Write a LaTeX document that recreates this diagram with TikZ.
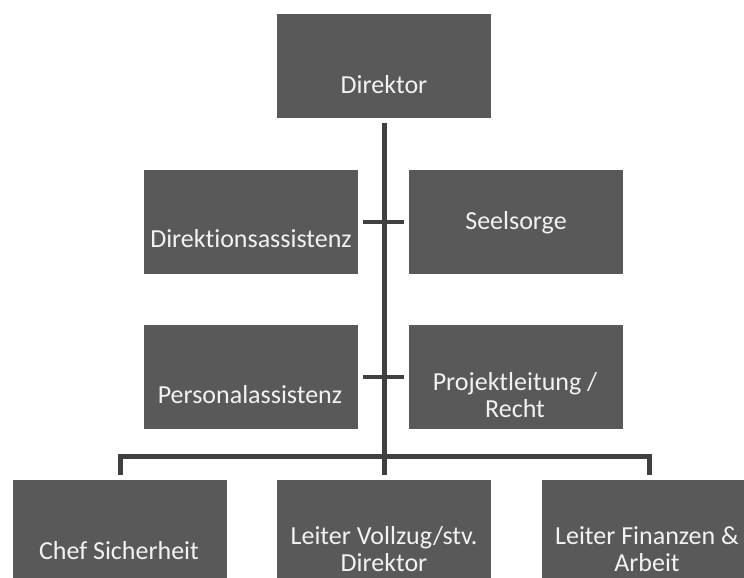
\documentclass[tikz,border=0pt]{standalone}
\usepackage{fontspec}
\setmainfont{Carlito}[Ligatures={NoCommon}]
\definecolor{boxfill}{HTML}{595959}
\definecolor{linecol}{HTML}{404040}
\definecolor{txtcol}{HTML}{F2F2F2}
\newcommand{\twolines}[2]{\vtop{\halign{\hfil##\hfil\cr #1\cr #2\cr}}}
\tikzset{
  orgbox/.style={draw=none, fill=boxfill, minimum width=214pt, minimum height=104pt, inner sep=0pt},
  orgtext/.style={text=txtcol, anchor=base, inner sep=0pt, font=\fontsize{26}{27.5}\selectfont},
  conn/.style={draw=linecol, line width=5pt, line join=miter},
  tickline/.style={draw=linecol, line width=4pt}
}
\begin{document}
\begin{tikzpicture}[x=1pt,y=-1pt]
\useasboundingbox (0,0) rectangle (744,578);
% boxes
\node[orgbox] (dir) at (384,66) {};
\node[orgbox] (da) at (251,222) {};
\node[orgbox] (seel) at (516,222) {};
\node[orgbox] (pa) at (251,376.5) {};
\node[orgbox] (pl) at (516,376.5) {};
\node[orgbox] (chef) at (120,532) {};
\node[orgbox] (vol) at (384,532) {};
\node[orgbox] (fin) at (649,532) {};
% texts
\node[orgtext] (dirt) at (384,93) {Direktor};
\node[orgtext] (dat) at (251,247) {Direktionsassistenz};
\node[orgtext] (seelt) at (516,229) {Seelsorge};
\node[orgtext] (pat) at (250,403) {Personalassistenz};
\node[orgtext] (plt) at (515,390) {\twolines{Projektleitung /}{Recht}};
\node[orgtext] (cheft) at (119,559) {Chef Sicherheit};
\node[orgtext] (volt) at (384,544) {\twolines{Leiter Vollzug/stv.}{Direktor}};
\node[orgtext] (fint) at (647,544) {\twolines{Leiter Finanzen \&}{Arbeit}};
% connectors
\coordinate (bus) at (0,456);
\draw[conn, shorten <=5pt, shorten >=5pt] (dir.south) -- (vol.north);
\draw[tickline, shorten <=5pt, shorten >=5pt] (da.east) -- (seel.west);
\draw[tickline, shorten <=5pt, shorten >=5pt] (pa.east) -- (pl.west);
\draw[conn, shorten <=5pt, shorten >=5pt] (chef.north) -- (chef.north |- bus) -- (fin.north |- bus) -- (fin.north);
\end{tikzpicture}
\end{document}
